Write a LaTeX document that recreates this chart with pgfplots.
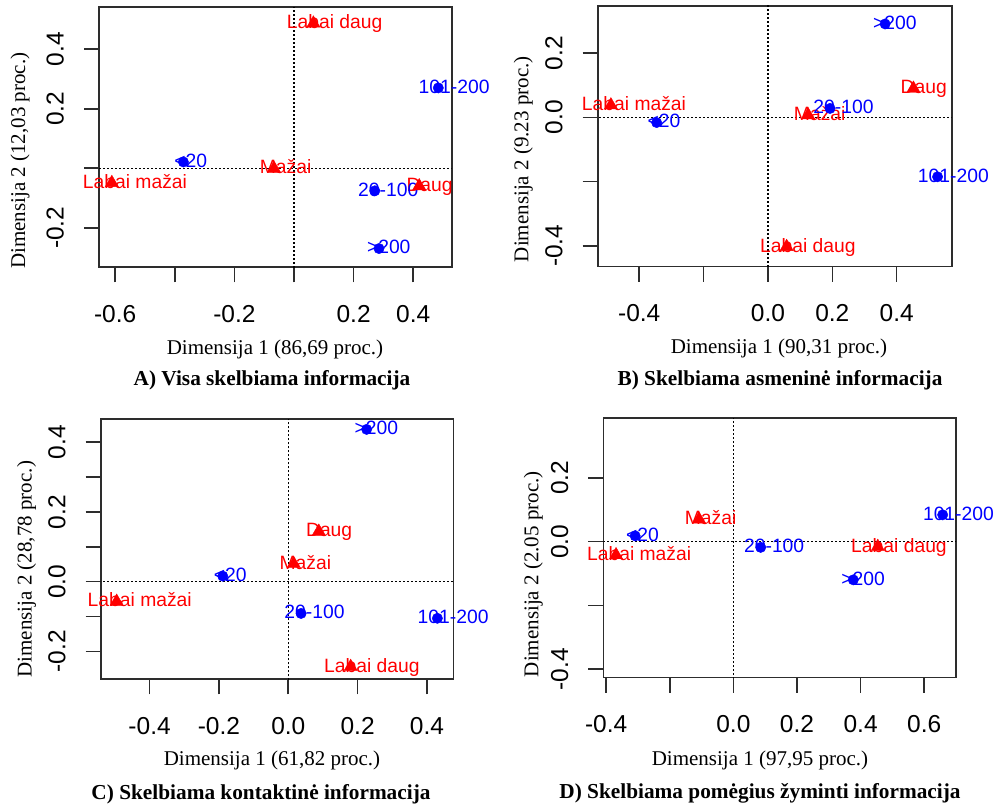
\documentclass[border=0pt]{standalone}
\usepackage{fontspec}
\setmainfont{Liberation Serif}
\newfontfamily\arial{Liberation Sans}
\usepackage{pgfplots}
\usepackage{pgfplotstable}
\pgfplotsset{compat=1.18}
\definecolor{rred}{RGB}{255,0,0}
\definecolor{rblue}{RGB}{0,0,255}
\definecolor{boxc}{RGB}{45,45,45}
\newsavebox\labbox
\newcommand\lab[1]{\sbox\labbox{#1}\hspace*{-0.28\wd\labbox}\usebox\labbox}

% Panel A
\pgfplotstableread[col sep=comma]{
x,y,l
0.065,0.487,Labai daug
-0.067,-0.001,Mažai
-0.611,-0.049,Labai mažai
0.420,-0.060,Daug
}\Arow
\pgfplotstableread[col sep=comma]{
x,y,l
0.484,0.270,101-200
-0.371,0.021,<20
0.271,-0.076,20-100
0.285,-0.270,>200
}\Acol
% Panel B
\pgfplotstableread[col sep=comma]{
x,y,l
0.452,0.090,Daug
-0.488,0.038,Labai mažai
0.125,0.007,Mažai
0.058,-0.403,Labai daug
}\Brow
\pgfplotstableread[col sep=comma]{
x,y,l
0.364,0.291,>200
0.193,0.028,20-100
-0.346,-0.016,<20
0.527,-0.185,101-200
}\Bcol
% Panel C
\pgfplotstableread[col sep=comma]{
x,y,l
0.088,0.144,Daug
0.016,0.051,Mažai
-0.495,-0.057,Labai mažai
0.180,-0.244,Labai daug
}\Crow
\pgfplotstableread[col sep=comma]{
x,y,l
0.226,0.437,>200
-0.189,0.016,<20
0.037,-0.091,20-100
0.430,-0.105,101-200
}\Ccol
% Panel D
\pgfplotstableread[col sep=comma]{
x,y,l
-0.108,0.070,Mažai
0.454,-0.016,Labai daug
-0.369,-0.042,Labai mažai
}\Drow
\pgfplotstableread[col sep=comma]{
x,y,l
0.658,0.084,101-200
-0.309,0.018,<20
0.086,-0.018,20-100
0.377,-0.120,>200
}\Dcol

\pgfplotsset{
  caplot/.style={
    scale only axis,
    axis line style={line width=1.6pt, boxc},
    tick style={boxc, line width=1.6pt},
    major tick length=15pt,
    tick align=outside,
    xtick pos=bottom, ytick pos=left,
    minor tick num=0,
    ticklabel style={font=\arial\fontsize{24.5}{26}\selectfont, black},
    xticklabel style={anchor=base},
    yticklabel style={rotate=90, anchor=base},
    xticklabel shift=40.3pt,
    yticklabel shift=20.3pt,
    clip=true,
  },
  labs/.style={
    only marks, mark=none,
    point meta=explicit symbolic,
    nodes near coords={\lab{\pgfplotspointmeta}},
    every node near coord/.append style={anchor=base west, inner sep=0pt, yshift=-5.3pt,
      font=\arial\fontsize{19.3}{20}\selectfont, text=#1},
  },
  zl/.style={black, line width=1.3pt, dash pattern=on 2pt off 2pt, forget plot},
  tri/.style={only marks, mark=triangle*, mark size=7.6pt, mark options={fill=rred, draw=rred, line width=0.4pt}},
  dot/.style={only marks, mark=*, mark size=5.2pt, mark options={fill=rblue, draw=rblue, line width=0.4pt}},
}

\newcommand\panel[2]{%
  \addplot[zl] coordinates {(-5,0) (5,0)};
  \addplot[zl] coordinates {(0,-5) (0,5)};
  \addplot[labs=rred] table[x=x,y=y,meta=l] {#1};
  \addplot[labs=rblue] table[x=x,y=y,meta=l] {#2};
  \addplot[tri] table[x=x,y=y] {#1};
  \addplot[dot] table[x=x,y=y] {#2};
}

\begin{document}
\begin{tikzpicture}[x=1pt,y=1pt]
\path[use as bounding box] (0,0) rectangle (999,804);

% ---------- A ----------
\begin{axis}[caplot, at={(99pt,536.7pt)}, anchor=south west,
  width=352.7pt, height=260pt,
  xmin=-0.654, xmax=0.529, ymin=-0.333, ymax=0.541,
  xtick={-0.6,-0.4,-0.2,0,0.2,0.4}, xticklabels={-0.6,,-0.2,,0.2,0.4},
  ytick={-0.2,0,0.2,0.4}, yticklabels={-0.2,,0.2,0.4}]
\panel{\Arow}{\Acol}
\end{axis}
\node[anchor=base, font=\fontsize{21}{22}\selectfont] at (275,449.7) {Dimensija 1 (86,69 proc.)};
\node[anchor=base, font=\bfseries\fontsize{21.3}{22}\selectfont] at (272,418) {A) Visa skelbiama informacija};
\node[anchor=base, rotate=90, font=\fontsize{21}{22}\selectfont] at (25,643.2) {Dimensija 2 (12,03 proc.)};

% ---------- B ----------
\begin{axis}[caplot, at={(597.7pt,537.3pt)}, anchor=south west,
  width=354pt, height=260.7pt,
  xmin=-0.529, xmax=0.571, ymin=-0.465, ymax=0.347,
  xtick={-0.4,-0.2,0,0.2,0.4}, xticklabels={-0.4,,0.0,0.2,0.4},
  ytick={-0.4,-0.2,0,0.2}, yticklabels={-0.4,,0.0,0.2}]
\panel{\Brow}{\Bcol}
\end{axis}
\node[anchor=base, font=\fontsize{21}{22}\selectfont] at (779,450.7) {Dimensija 1 (90,31 proc.)};
\node[anchor=base, font=\bfseries\fontsize{21.3}{22}\selectfont] at (780,418) {B) Skelbiama asmeninė informacija};
\node[anchor=base, rotate=90, font=\fontsize{21}{22}\selectfont] at (528.3,644.8) {Dimensija 2 (9.23 proc.)};

% ---------- C ----------
\begin{axis}[caplot, at={(100.7pt,124.7pt)}, anchor=south west,
  width=352.6pt, height=260pt,
  xmin=-0.541, xmax=0.476, ymin=-0.280, ymax=0.466,
  xtick={-0.4,-0.2,0,0.2,0.4}, xticklabels={-0.4,-0.2,0.0,0.2,0.4},
  ytick={-0.2,-0.1,0,0.1,0.2,0.3,0.4}, yticklabels={-0.2,,0.0,,0.2,,0.4}]
\panel{\Crow}{\Ccol}
\end{axis}
\node[anchor=base, font=\fontsize{21}{22}\selectfont] at (272,38.3) {Dimensija 1 (61,82 proc.)};
\node[anchor=base, font=\bfseries\fontsize{21.3}{22}\selectfont] at (261,5) {C) Skelbiama kontaktinė informacija};
\node[anchor=base, rotate=90, font=\fontsize{21}{22}\selectfont] at (31.7,234.8) {Dimensija 2 (28,78 proc.)};

% ---------- D ----------
\begin{axis}[caplot, at={(603.3pt,126.3pt)}, anchor=south west,
  width=352.7pt, height=259.4pt,
  xmin=-0.409, xmax=0.700, ymin=-0.427, ymax=0.387,
  xtick={-0.4,-0.2,0,0.2,0.4,0.6}, xticklabels={-0.4,,0.0,0.2,0.4,0.6},
  ytick={-0.4,-0.2,0,0.2}, yticklabels={-0.4,,0.0,0.2}]
\panel{\Drow}{\Dcol}
\end{axis}
\node[anchor=base, font=\fontsize{21}{22}\selectfont] at (760,38.3) {Dimensija 1 (97,95 proc.)};
\node[anchor=base, font=\bfseries\fontsize{21.3}{22}\selectfont] at (760,5.7) {D) Skelbiama pomėgius žyminti informacija};
\node[anchor=base, rotate=90, font=\fontsize{21}{22}\selectfont] at (538.3,229.8) {Dimensija 2 (2.05 proc.)};
\end{tikzpicture}
\end{document}
